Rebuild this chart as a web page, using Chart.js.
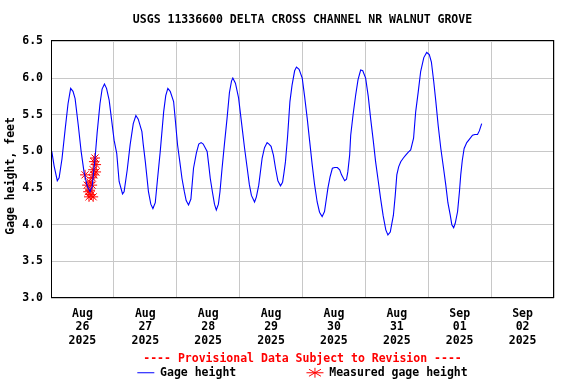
<!DOCTYPE html>
<html>
<head>
<meta charset="utf-8">
<script src="https://cdn.jsdelivr.net/npm/chart.js@4/dist/chart.umd.min.js"></script>
<style>
  body { margin: 0; background: #fff; }
  canvas { display: block; }
</style>
</head>
<body>
<canvas id="gageChart" width="576" height="384"></canvas>
<script>
    // Gage height readings, hours after Aug 26 2025 00:00
    const gageHours = [
        0.3, 1.2, 2.4, 3.1, 4.2, 5.4, 6.5, 7.5, 8.4, 9.2, 10.4, 11.5, 12.6, 13.8, 14.9, 15.7,
        16.8, 17.6, 18.7, 19.5, 20.4, 21.2, 22.2, 23.2, 24.1, 25.1, 26.0, 27.3, 27.9, 29.1,
        30.2, 31.4, 32.4, 33.3, 34.7, 35.2, 36.0, 37.2, 38.1, 38.9, 39.8, 40.6, 41.7, 43.0,
        43.8, 44.6, 45.5, 46.8, 47.4, 48.3, 49.2, 50.0, 50.9, 51.6, 52.5, 53.4, 54.4, 55.5,
        56.4, 57.3, 58.1, 59.6, 60.2, 60.8, 61.6, 62.4, 63.1, 63.9, 64.5, 65.3, 66.2, 67.2,
        68.1, 68.9, 69.4, 70.4, 71.6, 72.7, 73.9, 74.9, 75.7, 76.5, 77.7, 78.4, 79.3, 80.6,
        81.5, 82.5, 83.2, 84.0, 84.9, 85.7, 86.6, 87.6, 88.4, 88.9, 89.5, 90.3, 91.2, 92.0,
        93.0, 93.7, 94.7, 95.9, 96.8, 97.8, 98.7, 99.7, 100.6, 101.6, 102.5, 103.5, 104.4,
        105.7, 106.5, 107.4, 108.3, 109.3, 110.2, 110.9, 112.1, 112.8, 113.3, 114.0, 114.4,
        115.3, 116.3, 117.2, 118.2, 119.0, 120.1, 121.1, 122.0, 123.0, 123.9, 124.9, 125.8,
        126.8, 127.8, 128.6, 129.5, 130.7, 131.4, 132.0, 132.7, 133.5, 134.5, 135.4, 136.4,
        137.3, 138.4, 139.2, 140.2, 141.1, 142.3, 143.4, 144.4, 145.2, 146.1, 146.9, 147.8,
        148.8, 149.8, 150.7, 151.5, 152.4, 153.0, 153.7, 154.3, 155.2, 155.9, 156.4, 157.0,
        157.7, 158.7, 159.6, 160.9, 161.8, 162.8, 163.5, 164.4
    ];
    const gageFeet = [
        5.00, 4.80, 4.60, 4.64, 4.90, 5.30, 5.65, 5.86, 5.82, 5.72, 5.36, 5.00, 4.72, 4.53, 4.45, 4.52,
        4.90, 5.25, 5.65, 5.85, 5.92, 5.86, 5.70, 5.41, 5.15, 4.97, 4.59, 4.42, 4.45, 4.75,
        5.09, 5.38, 5.49, 5.44, 5.27, 5.10, 4.86, 4.45, 4.28, 4.22, 4.30, 4.60, 5.00, 5.54,
        5.76, 5.86, 5.82, 5.68, 5.45, 5.09, 4.85, 4.63, 4.45, 4.33, 4.27, 4.35, 4.77, 4.98,
        5.10, 5.12, 5.10, 5.00, 4.82, 4.63, 4.45, 4.28, 4.20, 4.28, 4.45, 4.77, 5.10, 5.45,
        5.80, 5.96, 6.00, 5.93, 5.73, 5.40, 5.04, 4.77, 4.55, 4.40, 4.31, 4.38, 4.54, 4.91,
        5.05, 5.12, 5.10, 5.07, 4.95, 4.77, 4.60, 4.53, 4.58, 4.70, 4.86, 5.20, 5.68, 5.90,
        6.10, 6.15, 6.12, 6.00, 5.75, 5.45, 5.15, 4.82, 4.55, 4.31, 4.17, 4.11, 4.18,
        4.50, 4.65, 4.77, 4.78, 4.78, 4.75, 4.68, 4.60, 4.62, 4.72, 4.95, 5.22,
        5.50, 5.77, 5.98, 6.11, 6.10, 6.00, 5.75, 5.45, 5.15, 4.86, 4.60, 4.36,
        4.12, 3.93, 3.86, 3.90, 4.13, 4.40, 4.68, 4.79, 4.86, 4.91, 4.95, 4.99,
        5.02, 5.18, 5.54, 5.82, 6.09, 6.28, 6.35, 6.32, 6.22, 5.95, 5.68, 5.35,
        5.04, 4.78, 4.54, 4.30, 4.13, 4.00, 3.96, 4.02, 4.18, 4.45, 4.68, 4.88,
        5.04, 5.12, 5.16, 5.22, 5.23, 5.23, 5.28, 5.38
    ];

    // Field measurements
    const measuredHours = [13.0, 13.8, 14.2, 14.5, 14.9, 15.3, 15.7, 16.1, 14.9, 15.7, 16.1, 16.4, 16.8, 17.2, 16.4, 17.2];
    const measuredFeet = [4.68, 4.54, 4.45, 4.38, 4.47, 4.41, 4.54, 4.38, 4.58, 4.64, 4.75, 4.86, 4.91, 4.82, 4.68, 4.72];

    const dayLabels = [
        ['Aug', '26', '2025'], ['Aug', '27', '2025'], ['Aug', '28', '2025'], ['Aug', '29', '2025'],
        ['Aug', '30', '2025'], ['Aug', '31', '2025'], ['Sep', '01', '2025'], ['Sep', '02', '2025']
    ];
    const yTicks = [3.0, 3.5, 4.0, 4.5, 5.0, 5.5, 6.0, 6.5];

    const monoFont = { family: "'DejaVu Sans Mono', monospace", size: 11.5, weight: 'bold', lineHeight: '13.5px' };
    const gridGray = '#c8c8c8';

    Chart.defaults.color = '#000';
    Chart.defaults.font = monoFont;

    // Black frame round the plot area
    const plotFrame = {
        id: 'plotFrame',
        afterDraw(chart) {
            const { ctx, chartArea: a } = chart;
            ctx.save();
            ctx.strokeStyle = '#000';
            ctx.lineWidth = 1;
            ctx.strokeRect(Math.round(a.left) + 0.5, Math.round(a.top) + 0.5,
                Math.round(a.right - a.left) - 1, Math.round(a.bottom - a.top) - 1);
            ctx.restore();
        }
    };

    const ctx = document.getElementById('gageChart').getContext('2d');
    new Chart(ctx, {
        type: 'line',
        data: {
            datasets: [
                {
                    label: 'Gage height          ',
                    data: gageHours.map((h, i) => ({ x: h, y: gageFeet[i] })),
                    borderColor: '#0000ff',
                    backgroundColor: '#0000ff',
                    borderWidth: 1.1,
                    pointRadius: 0,
                    pointStyle: 'line',
                    tension: 0
                },
                {
                    label: 'Measured gage height',
                    data: measuredHours.map((h, i) => ({ x: h, y: measuredFeet[i] })),
                    showLine: false,
                    borderColor: '#ff0000',
                    backgroundColor: '#ff0000',
                    borderWidth: 1,
                    pointStyle: 'star',
                    pointRadius: 5
                }
            ]
        },
        options: {
            responsive: false,
            animation: false,
            layout: { padding: { left: 0, right: 22, top: 0, bottom: 0.5 } },
            plugins: {
                title: {
                    display: true,
                    fullSize: false,
                    text: 'USGS 11336600 DELTA CROSS CHANNEL NR WALNUT GROVE',
                    font: { ...monoFont, lineHeight: '13.8px' },
                    color: '#000',
                    padding: { top: 13, bottom: 13.2 }
                },
                subtitle: {
                    display: true,
                    position: 'bottom',
                    fullSize: false,
                    weight: 500,
                    text: '---- Provisional Data Subject to Revision ----',
                    font: monoFont,
                    color: '#ff0000',
                    padding: { top: 5.5, bottom: 0 }
                },
                legend: {
                    position: 'bottom',
                    fullSize: false,
                    maxHeight: 17.5,
                    labels: {
                        usePointStyle: true,
                        pointStyleWidth: 17,
                        boxHeight: 7,
                        padding: 1,
                        color: '#000',
                        font: monoFont
                    }
                },
                tooltip: { enabled: false }
            },
            scales: {
                x: {
                    type: 'linear',
                    min: 0,
                    max: 192,
                    border: { display: false },
                    grid: {
                        drawTicks: false,
                        color: (c) => (c.tick && c.tick.value % 24 === 0) ? gridGray : 'rgba(0,0,0,0)'
                    },
                    afterFit: (s) => { s.height = 49; },
                    ticks: {
                        stepSize: 12,
                        autoSkip: false,
                        maxRotation: 0,
                        padding: 9,
                        font: monoFont,
                        callback: (v) => (v % 24 === 12) ? dayLabels[(v - 12) / 24] : ''
                    }
                },
                y: {
                    min: 3,
                    max: 6.52,
                    border: { display: false },
                    grid: { drawTicks: false, color: gridGray },
                    afterBuildTicks: (s) => { s.ticks = yTicks.map(v => ({ value: v })); },
                    afterFit: (s) => { s.width = 51; },
                    ticks: {
                        padding: 8,
                        font: monoFont,
                        callback: (v) => Number(v).toFixed(1)
                    },
                    title: {
                        display: true,
                        text: 'Gage height, feet  ',
                        font: { ...monoFont, lineHeight: '13.8px' },
                        padding: { top: 4, bottom: 0 }
                    }
                }
            }
        },
        plugins: [plotFrame]
    });
</script>
</body>
</html>
